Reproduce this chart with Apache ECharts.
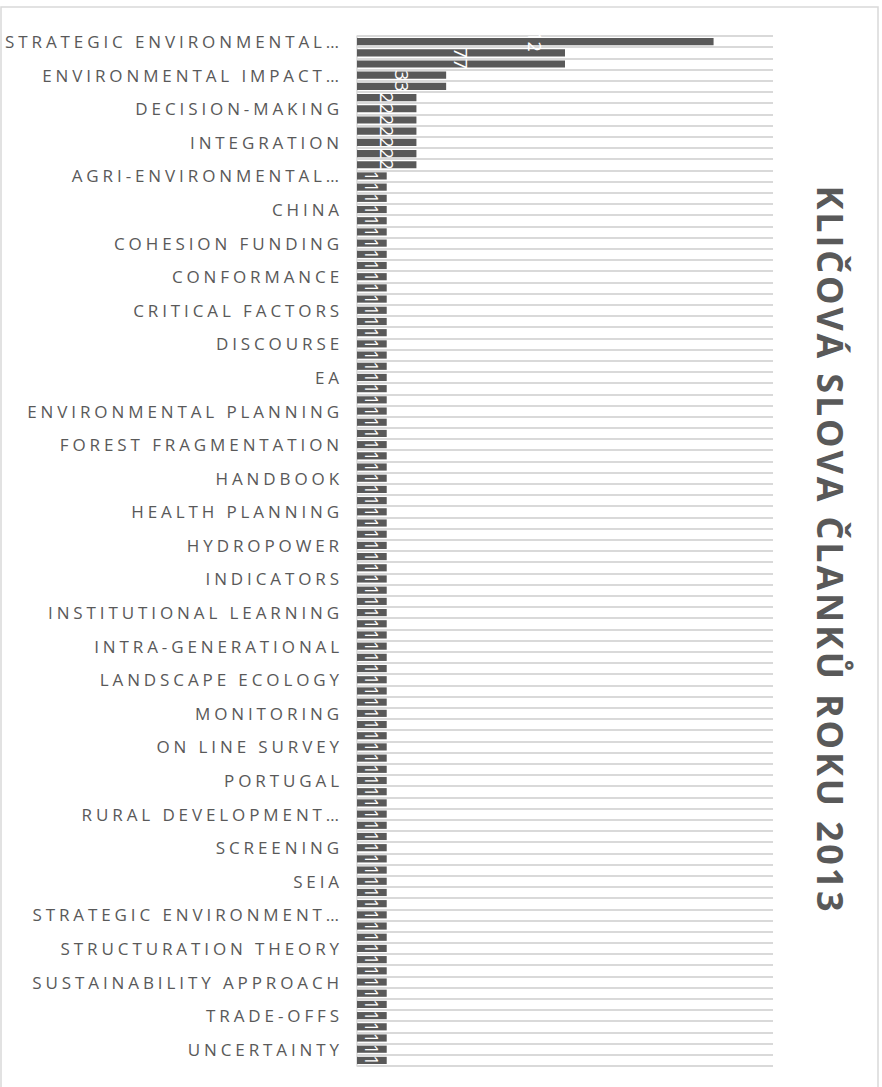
<!DOCTYPE html>
<html>
<head>
<meta charset="utf-8">
<script src="https://cdn.jsdelivr.net/npm/echarts@6/dist/echarts.min.js"></script>
<style>
  html, body { margin: 0; padding: 0; background: #ffffff; }
  #chart { width: 882px; height: 1087px; }
  #chart text[style*="17px"] { letter-spacing: 3.9px; }
  #chart text[style*="36px"] { letter-spacing: 2.8px; }
</style>
</head>
<body>
<div id="chart"></div>
<script>
// Keywords (displayed on the category axis, every 3rd label visible)
const categories = [
  "STRATEGIC ENVIRONMENTAL…", "ENVIRONMENTAL ASSESSMENT", "SEA",
  "ENVIRONMENTAL IMPACT…", "SUSTAINABLE DEVELOPMENT",
  "CASE STUDY", "DECISION-MAKING", "EFFECTIVENESS", "GOVERNANCE", "INTEGRATION", "PUBLIC PARTICIPATION", "SPATIAL DATA",
  "AGRI-ENVIRONMENTAL…", "ALTERNATIVES", "BIODIVERSITY",
  "CHINA", "CITIZEN SCIENCE", "CLIMATE CHANGE",
  "COHESION FUNDING", "COMPLIANCE", "CONFLICT",
  "CONFORMANCE", "CONSULTATION", "COST-BENEFIT ANALYSIS",
  "CRITICAL FACTORS", "CUMULATIVE EFFECTS", "DEVELOPMENT PLANNING",
  "DISCOURSE", "DISTRIBUTIVE JUSTICE", "DRIVING FORCES",
  "EA", "ECOSYSTEM SERVICES", "ENERGY POLICY",
  "ENVIRONMENTAL PLANNING", "EQUITY", "EVALUATION",
  "FOREST FRAGMENTATION", "FRAMEWORK", "GIS",
  "HANDBOOK", "HEALTH IMPACT ASSESSMENT", "HEALTH INEQUALITIES",
  "HEALTH PLANNING", "HUMAN HEALTH", "HYDROLOGY",
  "HYDROPOWER", "IMPACT PREDICTION", "INDIA",
  "INDICATORS", "INFRASTRUCTURE", "INSTITUTIONAL CAPACITY",
  "INSTITUTIONAL LEARNING", "INSTITUTIONS", "INTERNATIONAL COOPERATION",
  "INTRA-GENERATIONAL", "LAND USE", "LANDSCAPE",
  "LANDSCAPE ECOLOGY", "LEGISLATION", "MITIGATION",
  "MONITORING", "MULTI-CRITERIA ANALYSIS", "NETHERLANDS",
  "ON LINE SURVEY", "PARTICIPATION", "POLICY",
  "PORTUGAL", "POWER", "PROGRAMMES",
  "RURAL DEVELOPMENT…", "SCALE", "SCOPING",
  "SCREENING", "SEA EFFECTIVENESS", "SECTORAL PLANNING",
  "SEIA", "SOCIAL IMPACT", "SPATIAL PLANNING",
  "STRATEGIC ENVIRONMENT…", "STRATEGIC PLANNING", "STRATEGY",
  "STRUCTURATION THEORY", "SUBSIDIARITY", "SUPPORT TOOLS",
  "SUSTAINABILITY APPROACH", "SWEDEN", "TOURISM",
  "TRADE-OFFS", "TRANSPARENCY", "TRANSPORT PLANNING",
  "UNCERTAINTY", "WATER MANAGEMENT"
];

// Number of articles per keyword
const counts = [
  12, 7, 7,
  3, 3,
  2, 2, 2, 2, 2, 2, 2,
  1, 1, 1, 1, 1, 1, 1, 1, 1, 1, 1, 1, 1, 1, 1, 1, 1, 1, 1, 1,
  1, 1, 1, 1, 1, 1, 1, 1, 1, 1, 1, 1, 1, 1, 1, 1, 1, 1, 1, 1,
  1, 1, 1, 1, 1, 1, 1, 1, 1, 1, 1, 1, 1, 1, 1, 1, 1, 1, 1, 1,
  1, 1, 1, 1, 1, 1, 1, 1, 1, 1, 1, 1, 1, 1, 1, 1, 1, 1, 1, 1
];

const titleText = "KLIČOVÁ SLOVA ČLANKŮ ROKU 2013";

const chart = echarts.init(document.getElementById('chart'), null, { renderer: 'svg' });
chart.setOption({
  backgroundColor: '#ffffff',
  animation: false,
  grid: { left: 357, right: 109, top: 36, bottom: 21, containLabel: false },
  xAxis: {
    type: 'value', min: 0, max: 14,
    axisLine: { show: false }, axisTick: { show: false },
    axisLabel: { show: false }, splitLine: { show: false }
  },
  yAxis: {
    type: 'category', inverse: true, data: categories,
    axisLine: { show: true, lineStyle: { color: '#d9d9d9', width: 1.5 } },
    axisTick: { show: false },
    axisLabel: {
      interval: 2, color: '#595959', fontSize: 17,
      fontFamily: 'Open Sans', margin: 14
    },
    splitLine: { show: true, interval: 0, lineStyle: { color: '#d9d9d9', width: 2 } }
  },
  series: [{
    type: 'bar', data: counts,
    barCategoryGap: '36%',
    itemStyle: { color: '#595959' },
    label: {
      show: true, position: 'inside', rotate: -90,
      color: '#ffffff', fontSize: 18, fontFamily: 'Open Sans'
    }
  }],
  graphic: [
    {
      type: 'rect', silent: true,
      shape: { x: 1, y: 7, width: 877, height: 1100 },
      style: { fill: 'none', stroke: '#d9d9d9', lineWidth: 1.5 }
    },
    {
      type: 'text', x: 830, y: 550, rotation: -Math.PI / 2,
      style: {
        text: titleText, fill: '#595959',
        font: 'bold 36px "Open Sans"', align: 'center', verticalAlign: 'middle'
      }
    }
  ]
});
</script>
</body>
</html>
